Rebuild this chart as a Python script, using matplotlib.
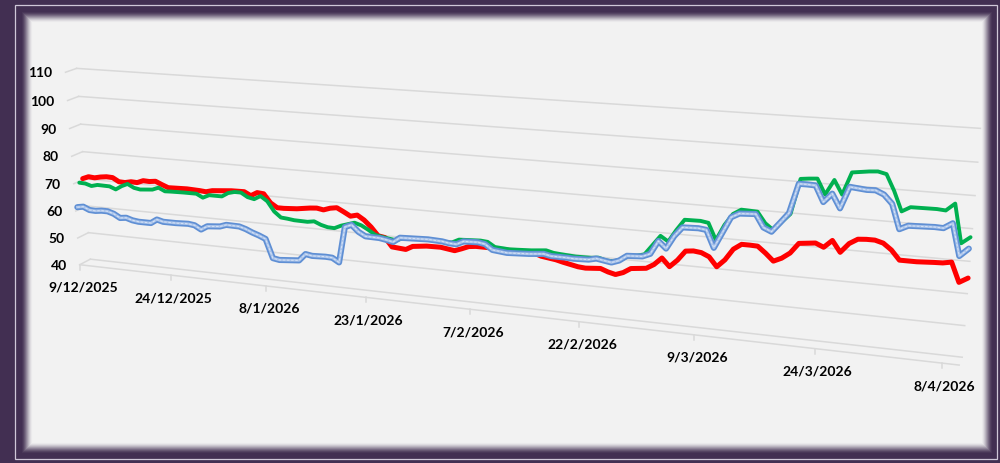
import numpy as np
import matplotlib
matplotlib.use("Agg")
import matplotlib.pyplot as plt
from matplotlib.transforms import Transform
from matplotlib.patches import Rectangle
import pandas as pd

# ---------------- data ----------------
START = pd.Timestamp("2025-12-09")
END = pd.Timestamp("2026-04-10")
tick_labels = ["9/12/2025", "24/12/2025", "8/1/2026", "23/1/2026", "7/2/2026",
               "22/2/2026", "9/3/2026", "24/3/2026", "8/4/2026"]
y_ticks = [40, 50, 60, 70, 80, 90, 100, 110]

# days since 9/12/2025
red_days = [0, 1, 2, 3, 4, 5, 6, 7, 8, 9, 10, 11, 12, 13, 14,
            17, 19, 20, 21, 24, 26, 27, 28, 29, 30, 31, 32, 34,
            36, 37, 38, 39, 40, 41, 42, 43, 44, 45, 46, 47, 48,
            50, 51, 53, 55, 57, 58, 59, 60, 62, 63, 65, 68, 69, 71, 72, 74, 75, 77,
            78, 79, 80, 81, 82, 83, 84, 85, 86, 87, 88, 89, 90, 91, 92, 93, 94, 95,
            96, 97, 98, 99, 100, 101, 102, 103, 104, 105, 106, 107, 108, 109, 110,
            111, 112, 113, 114,
            116, 118, 119, 120, 121, 122]
red_vals = [70.4, 71.3, 71.1, 71.6, 71.9, 71.8, 70.5, 70.4, 70.9, 70.8, 71.7, 71.6, 71.9, 70.9, 70.0,
            70.2, 70.0, 69.8, 70.4, 71.0, 71.1, 69.9, 71.2, 71.0, 68.0, 66.5, 66.5, 66.8,
            67.5, 67.7, 67.3, 68.1, 68.5, 67.3, 66.0, 66.6, 65.1, 62.9, 60.1, 59.7, 56.7,
            56.3, 57.6, 58.2, 58.3, 57.6, 58.5, 59.5, 59.8, 59.8, 59.5, 59.6, 59.6, 58.7, 58.0, 57.4, 56.4, 56.2, 56.6,
            55.7, 55.1, 56.0, 57.6, 57.9, 58.2, 59.7, 62.1, 59.5, 61.9, 65.1, 65.4, 65.1, 64.0, 61.0, 63.5, 67.2, 69.0,
            69.0, 68.9, 66.9, 64.6, 65.8, 67.7, 71.0, 71.3, 71.6, 70.5, 72.9, 69.4, 72.4, 74.0, 74.2,
            74.2, 73.5, 71.6, 68.7,
            68.7, 69.0, 69.1, 69.6, 63.6, 65.2]

green_days = [0, 1, 2, 3, 5, 6, 7, 8, 9, 10, 12, 13, 14, 15, 17, 19, 20, 21, 23, 24,
              25, 26, 27, 28, 29, 30, 31, 32, 33, 34, 36, 37, 38, 39, 40, 41, 43, 44, 45, 46,
              47, 49, 50, 51, 54, 55, 56, 57, 58, 61, 62, 63, 65, 68, 70, 71, 72, 74, 76, 77,
              78, 79, 80, 81, 82, 83, 85, 86, 87, 88, 90, 91, 92, 93, 94, 95, 97, 98, 99, 100,
              101, 102, 103, 104, 105, 106, 107, 108, 110, 111, 112, 113, 114, 115, 118, 119,
              120, 121, 122]
green_vals = [69.5, 69.4, 68.7, 69.3, 69.2, 68.3, 69.7, 70.7, 69.5, 69.1, 69.5, 70.4, 69.3, 69.4, 69.5, 69.5, 68.3, 69.4, 69.4, 70.8,
              71.4, 71.4, 70.0, 69.5, 70.8, 69.2, 65.8, 63.9, 63.7, 63.4, 63.3, 63.7, 62.7, 62.1, 62.0, 63.1, 64.6, 63.9, 62.6, 61.1,
              60.6, 59.9, 60.8, 61.1, 61.3, 61.2, 60.9, 61.1, 62.3, 62.7, 62.5, 61.0, 60.7, 61.1, 61.6, 61.0, 60.8, 60.5, 60.6, 60.9,
              60.2, 60.2, 61.0, 62.6, 62.8, 63.5, 70.0, 68.4, 72.4, 75.9, 76.0, 75.6, 70.3, 75.4, 79.1, 80.7, 80.5, 77.1, 75.2, 78.0,
              80.7, 91.8, 92.1, 92.3, 87.6, 92.3, 88.0, 95.0, 95.7, 95.9, 95.3, 90.4, 84.4, 85.9, 86.0, 85.8,
              88.1, 76.3, 78.4]

blue_days = [0, 1, 2, 3, 4, 5, 6, 7, 8, 9, 10, 12, 13, 14, 16, 18, 19, 20, 21, 23,
             24, 26, 27, 28, 29, 30, 31, 32, 35, 36, 37, 39, 40, 41, 42, 43, 44, 45, 47, 48,
             49, 50, 54, 56, 57, 58, 59, 61, 62, 63, 65, 68, 70, 71, 73, 74, 76, 77, 79, 80,
             81, 83, 84, 85, 86, 87, 88, 90, 91, 92, 93, 94, 95, 97, 98, 99, 100, 101, 102, 103,
             104, 105, 106, 107, 108, 110, 111, 112, 113, 114, 115, 118, 119, 120, 121, 122]
blue_vals = [61.1, 61.5, 60.5, 60.4, 60.7, 60.7, 60.0, 58.7, 59.0, 58.3, 58.0, 58.0, 59.5, 58.9, 58.9, 59.1, 58.8, 57.5, 58.9, 59.3,
             60.1, 60.0, 59.3, 58.3, 57.5, 56.5, 49.9, 49.5, 50.1, 52.6, 52.2, 52.4, 52.3, 50.9, 63.5, 64.5, 62.3, 61.0, 60.9, 60.5,
             60.0, 61.7, 62.1, 61.9, 61.5, 61.4, 62.6, 62.8, 62.4, 60.7, 60.2, 60.6, 61.1, 60.6, 60.6, 60.5, 60.7, 61.3, 60.5, 61.4,
             63.2, 63.5, 64.6, 69.0, 66.8, 71.1, 74.1, 74.3, 74.0, 68.5, 73.6, 78.7, 80.1, 80.4, 76.4, 75.3, 78.4, 81.6, 90.9, 90.9,
             90.8, 85.9, 88.7, 84.4, 91.2, 90.7, 90.8, 89.7, 87.1, 79.6, 80.9, 81.2, 81.1, 82.8, 73.1, 75.6]

# ---------------- 3-D perspective of the plot area ----------------
X_MAX = (END - START).days
Y_MIN, Y_MAX = 40, 110

# layout anchors (data-space corner -> pixel), used to fit a camera projection
anchors = [
    ((0, 110, 0), (77, 69)), ((0, 80, 0), (83, 153)), ((0, 50, 0), (88, 233.5)),
    ((0, 40, 0), (90, 260)),
    ((X_MAX, 110, 0), (980, 130)), ((X_MAX, 80, 0), (973, 229)),
    ((X_MAX, 70, 0), (970, 263)), ((X_MAX, 40, 0), (962, 358)),
    ((0, 110, 1), (65, 73)), ((0, 40, 1), (80, 266)),
    ((15, 40, 1), (171, 276.3)), ((30, 40, 1), (266, 287.1)), ((45, 40, 1), (366, 298.5)),
    ((60, 40, 1), (470, 310.3)), ((75, 40, 1), (579, 322.7)), ((90, 40, 1), (693, 335.6)),
    ((105, 40, 1), (814, 349.4)), ((120, 40, 1), (942, 363.9)), ((X_MAX, 40, 1), (960, 366)),
]


def norm3(x, y, z):
    return np.array([x / X_MAX, (y - Y_MIN) / (Y_MAX - Y_MIN), z, 1.0])


rows = []
for (x, y, z), (u, v) in anchors:
    p = norm3(x, y, z)
    un, vn = (u - 500) / 500, (v - 232) / 500
    rows.append(np.concatenate([p, np.zeros(4), -un * p]))
    rows.append(np.concatenate([np.zeros(4), p, -vn * p]))
_, _, vt = np.linalg.svd(np.array(rows))
P = vt[-1].reshape(3, 4)


def project(x, y, z):
    x = np.atleast_1d(np.asarray(x, float))
    y = np.atleast_1d(np.asarray(y, float))
    z = np.broadcast_to(np.asarray(z, float), x.shape)
    X = np.column_stack([x / X_MAX, (y - Y_MIN) / (Y_MAX - Y_MIN), z, np.ones_like(x)])
    h = X @ P.T
    return np.column_stack([h[:, 0] / h[:, 2] * 500 + 500, h[:, 1] / h[:, 2] * 500 + 232])


class PlaneProjection(Transform):
    input_dims = 2
    output_dims = 2
    is_separable = False
    has_inverse = False

    def __init__(self, plane_depth):
        super().__init__()
        self.plane_depth = plane_depth

    def transform_non_affine(self, values):
        values = np.asarray(values, float)
        return project(values[:, 0], values[:, 1], self.plane_depth)


# ---------------- figure ----------------
W, H = 1000, 464
fig = plt.figure(figsize=(W / 100, H / 100), dpi=100)
ax = fig.add_axes([0, 0, 1, 1])
ax.set_xlim(0, W)
ax.set_ylim(H, 0)
ax.axis("off")

# frame: purple border with soft inner glow and light-grey panel
yy, xx = np.mgrid[0:H, 0:W] + 0.5
inside = np.minimum(np.minimum(xx - 27, 987 - xx), np.minimum(yy - 18, 449 - yy))
a = np.clip((inside + 6) / 12, 0, 1)
a = a * a * (3 - 2 * a)
purple = np.array([66, 47, 82]) / 255
panel = np.array([242, 242, 242]) / 255
img = purple * (1 - a[..., None]) + panel * a[..., None]
ax.imshow(img, extent=(0, W, H, 0), zorder=0, interpolation="bilinear")
ax.add_patch(Rectangle((14.5, 5.5), 997 - 14.5, 460 - 5.5, fill=False,
                       edgecolor="#cfc7d8", lw=0.9, zorder=1))

grid_c = "#d9d9d9"
back = PlaneProjection(0.0) + ax.transData
# back-wall gridlines
for yv in y_ticks:
    ax.plot([0, X_MAX], [yv, yv], color=grid_c, lw=1.1, transform=back, zorder=2)
# left side-wall lines
for yv in y_ticks:
    pts = np.vstack([project(0, yv, 0), project(0, yv, 1)])
    ax.plot(pts[:, 0], pts[:, 1], color=grid_c, lw=1.1, zorder=2)
# floor front edge
front = PlaneProjection(1.0) + ax.transData
ax.plot([0, X_MAX], [Y_MIN, Y_MIN], color=grid_c, lw=1.1, transform=front, zorder=2)
# ticks and date labels
tick_days = [(pd.to_datetime(s, dayfirst=True) - START).days for s in tick_labels]
tp = project(tick_days, [Y_MIN] * len(tick_days), 1.0)
for (px, py), lab in zip(tp, tick_labels):
    ax.plot([px, px], [py, py + 5], color=grid_c, lw=1.1, zorder=2)
    ax.text(px + 3, py + 22, lab, ha="center", va="center", fontsize=10,
            fontweight="bold", family="Lato", color="#000000", zorder=5)
# y labels
for yv in y_ticks:
    px, py = project(0, yv, 1.0)[0]
    ax.text(px - 13, py, str(yv), ha="right", va="center", fontsize=10,
            fontweight="bold", family="Lato", color="#000000", zorder=5)

# series (back to front)
ax.plot(red_days, red_vals, color="#ff0000", lw=3.6, solid_joinstyle="round",
        solid_capstyle="round", transform=PlaneProjection(1 / 6) + ax.transData, zorder=3)
ax.plot(green_days, green_vals, color="#00b050", lw=2.8, solid_joinstyle="round",
        solid_capstyle="round", transform=PlaneProjection(0.5) + ax.transData, zorder=3.1)
bt = PlaneProjection(5 / 6) + ax.transData
ax.plot(blue_days, blue_vals, color="#5f8fd4", lw=4.4, solid_joinstyle="round",
        solid_capstyle="round", transform=bt, zorder=3.2)
ax.plot(blue_days, blue_vals, color="#a9c3ea", lw=1.9, solid_joinstyle="round",
        transform=bt, zorder=3.3)
ax.plot(blue_days, blue_vals, color="#ffffff", lw=0.6, alpha=0.6, dashes=(3, 2),
        transform=bt, zorder=3.4)

fig.savefig("out.png", dpi=100)
